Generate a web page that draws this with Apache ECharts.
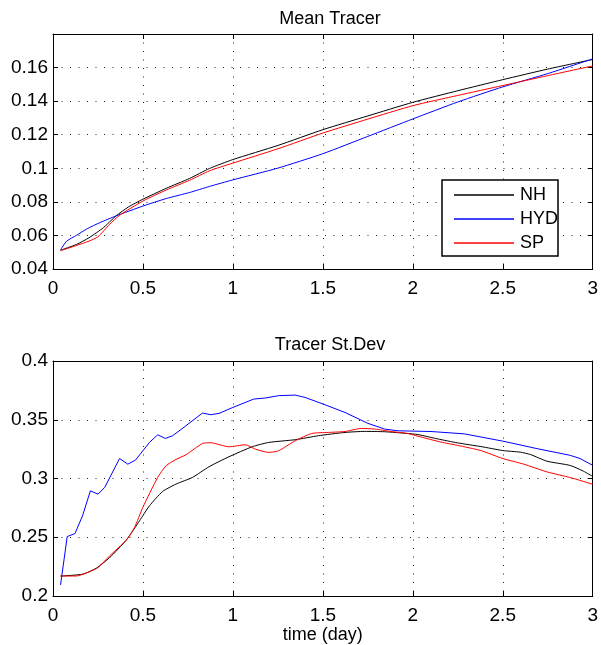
<!DOCTYPE html>
<html>
<head>
<meta charset="utf-8">
<script src="https://cdn.jsdelivr.net/npm/echarts@6/dist/echarts.min.js"></script>
<style>
html,body{margin:0;padding:0;background:#fff;}
#c{width:601px;height:645px;}
</style>
</head>
<body>
<div id="c"></div>
<script>
// ---- Data (time in days) ----
var titles = ['Mean Tracer', 'Tracer St.Dev'];
var seriesNames = ['NH', 'HYD', 'SP'];
var xTicks = [0, 0.5, 1, 1.5, 2, 2.5, 3];
var meanYTicks = [0.04, 0.06, 0.08, 0.1, 0.12, 0.14, 0.16];
var stdYTicks = [0.2, 0.25, 0.3, 0.35, 0.4];

// Mean Tracer
var nhMeanT = [0.042, 0.13, 0.2, 0.28, 0.35, 0.42, 0.5, 0.63, 0.76, 0.87, 1.0, 1.25, 1.5, 1.75, 2.0, 2.25, 2.5, 2.75, 3.0];
var nhMeanV = [0.0512, 0.0546, 0.0586, 0.0646, 0.0716, 0.077, 0.0816, 0.0881, 0.094, 0.0999, 0.1052, 0.1136, 0.123, 0.1312, 0.1393, 0.1462, 0.1528, 0.1591, 0.1648];
var hydMeanT = [0.042, 0.076, 0.13, 0.19, 0.26, 0.35, 0.5, 0.63, 0.76, 0.87, 1.0, 1.25, 1.5, 1.75, 2.0, 2.25, 2.5, 2.75, 3.0];
var hydMeanV = [0.0514, 0.0566, 0.06, 0.064, 0.0676, 0.0716, 0.0775, 0.082, 0.0856, 0.0892, 0.0931, 0.1001, 0.1087, 0.119, 0.1294, 0.1395, 0.1485, 0.1564, 0.1652];
var spMeanT = [0.042, 0.13, 0.2, 0.25, 0.315, 0.37, 0.5, 0.63, 0.76, 0.87, 1.0, 1.25, 1.5, 1.75, 2.0, 2.25, 2.5, 2.75, 3.0];
var spMeanV = [0.0509, 0.054, 0.0566, 0.0592, 0.0666, 0.072, 0.0805, 0.0871, 0.0929, 0.0985, 0.1031, 0.1116, 0.121, 0.1293, 0.1373, 0.1434, 0.1493, 0.1552, 0.161];

// Tracer St.Dev
var nhStdT = [0.042, 0.167, 0.241, 0.315, 0.407, 0.481, 0.536, 0.609, 0.683, 0.775, 0.867, 0.978, 1.107, 1.199, 1.346, 1.475, 1.623, 1.733, 1.843, 1.972, 2.028, 2.138, 2.249, 2.378, 2.5, 2.598, 2.654, 2.746, 2.875, 2.949, 3.0];
var nhStdV = [0.217, 0.2186, 0.2237, 0.2327, 0.2475, 0.264, 0.2767, 0.2889, 0.2952, 0.3009, 0.31, 0.3185, 0.327, 0.3307, 0.333, 0.3364, 0.3392, 0.3401, 0.3398, 0.3383, 0.3374, 0.3337, 0.3303, 0.3272, 0.3238, 0.3224, 0.3204, 0.3147, 0.3111, 0.3062, 0.3017];
var hydStdT = [0.042, 0.079, 0.122, 0.164, 0.208, 0.25, 0.287, 0.37, 0.416, 0.459, 0.536, 0.582, 0.624, 0.665, 0.739, 0.831, 0.877, 0.923, 1.0, 1.116, 1.18, 1.254, 1.346, 1.401, 1.501, 1.623, 1.751, 1.843, 1.917, 2.101, 2.286, 2.5, 2.691, 2.875, 2.93, 3.0];
var hydStdV = [0.2094, 0.2506, 0.2531, 0.2682, 0.2895, 0.2867, 0.2923, 0.317, 0.3122, 0.3157, 0.3307, 0.3372, 0.3341, 0.3364, 0.3449, 0.3557, 0.3543, 0.3554, 0.3605, 0.3676, 0.3685, 0.3705, 0.371, 0.369, 0.3634, 0.3562, 0.3469, 0.3421, 0.3406, 0.34, 0.338, 0.3318, 0.3254, 0.3197, 0.317, 0.3112];
var spStdT = [0.042, 0.13, 0.204, 0.25, 0.315, 0.407, 0.453, 0.499, 0.582, 0.628, 0.683, 0.739, 0.831, 0.877, 0.978, 1.07, 1.125, 1.199, 1.254, 1.346, 1.438, 1.53, 1.623, 1.714, 1.788, 1.88, 1.972, 2.028, 2.156, 2.249, 2.378, 2.5, 2.617, 2.746, 2.875, 3.0];
var spStdV = [0.217, 0.217, 0.2208, 0.2242, 0.2342, 0.2475, 0.2583, 0.2753, 0.3009, 0.3108, 0.3162, 0.3202, 0.3298, 0.3304, 0.327, 0.3287, 0.325, 0.3222, 0.3236, 0.3321, 0.3383, 0.3392, 0.34, 0.3426, 0.3421, 0.34, 0.3383, 0.336, 0.331, 0.3282, 0.3238, 0.317, 0.3122, 0.3056, 0.3008, 0.2951];

var colors = {NH: '#000000', HYD: '#0000ff', SP: '#ff0000'};

function pairs(t, v) { return t.map(function (x, i) { return [x, v[i]]; }); }

var FONT = 'Liberation Sans, Arial, Helvetica, sans-serif';
var gridLine = {show: true, lineStyle: {color: '#222', width: 1, type: [1, 7.5]}};

function mainX(gi, name) {
  return {
    type: 'value', gridIndex: gi, min: xTicks[0], max: xTicks[xTicks.length - 1], interval: 0.5,
    position: 'bottom',
    axisLine: {show: true, onZero: false, lineStyle: {color: '#000', width: 1}},
    axisTick: {show: true, inside: true, length: 5, lineStyle: {color: '#000'}},
    axisLabel: {color: '#000', fontSize: 19, fontFamily: FONT, margin: 10},
    splitLine: gridLine,
    name: name || '', nameLocation: 'middle', nameGap: 28,
    nameTextStyle: {color: '#000', fontSize: 18, fontFamily: FONT, verticalAlign: 'top'}
  };
}
function topX(gi) {
  return {
    type: 'value', gridIndex: gi, min: 0, max: 3, interval: 0.5, position: 'top',
    axisLine: {show: true, onZero: false, lineStyle: {color: '#000', width: 1}},
    axisTick: {show: true, inside: true, length: 5, lineStyle: {color: '#000'}},
    axisLabel: {show: false}, splitLine: {show: false}
  };
}
function mainY(gi, ticks, interval, showMax) {
  return {
    type: 'value', gridIndex: gi, min: ticks[0], max: showMax ? ticks[ticks.length - 1] : 0.18,
    interval: interval, position: 'left',
    axisLine: {show: true, onZero: false, lineStyle: {color: '#000', width: 1}},
    axisTick: {show: true, inside: true, length: 5, lineStyle: {color: '#000'}},
    axisLabel: {color: '#000', fontSize: 19, fontFamily: FONT, margin: 5, showMaxLabel: showMax,
      formatter: function (v) { return String(+v.toFixed(4)); }},
    splitLine: gridLine
  };
}
function rightY(gi, min, max, interval) {
  return {
    type: 'value', gridIndex: gi, min: min, max: max, interval: interval, position: 'right',
    axisLine: {show: true, onZero: false, lineStyle: {color: '#000', width: 1}},
    axisTick: {show: true, inside: true, length: 5, lineStyle: {color: '#000'}},
    axisLabel: {show: false}, splitLine: {show: false}
  };
}

function line(name, data, xi, yi, smooth) {
  return {
    name: name, type: 'line', xAxisIndex: xi, yAxisIndex: yi, data: data,
    symbol: 'none', smooth: smooth,
    lineStyle: {color: colors[name], width: 1}, itemStyle: {color: colors[name]},
    emphasis: {disabled: true}, animation: false
  };
}

var chart = echarts.init(document.getElementById('c'), null, {renderer: 'canvas'});
chart.setOption({
  backgroundColor: '#fff',
  animation: false,
  title: [
    {text: titles[0], left: 325, top: 5, textAlign: 'center',
      textStyle: {fontSize: 18, fontWeight: 'normal', color: '#000', fontFamily: FONT}},
    {text: titles[1], left: 325, top: 331, textAlign: 'center',
      textStyle: {fontSize: 18, fontWeight: 'normal', color: '#000', fontFamily: FONT}}
  ],
  legend: {
    data: seriesNames.map(function (n) { return {name: n, icon: 'rect'}; }),
    orient: 'vertical', left: 442, top: 180,
    padding: [6, 0, 4, 12], itemWidth: 60, itemHeight: 1.3, itemGap: 6,
    borderColor: '#000', borderWidth: 1.5, backgroundColor: '#fff',
    textStyle: {fontSize: 18, lineHeight: 17, color: '#000', fontFamily: FONT, padding: [0, 0, 0, 1]},
    selectedMode: false, z: 20
  },
  grid: [
    {left: 53, top: 34, width: 543, height: 235, show: false},
    {left: 53, top: 361, width: 543, height: 235, show: false}
  ],
  xAxis: [mainX(0), topX(0), mainX(1, 'time (day)'), topX(1)],
  yAxis: [mainY(0, meanYTicks, 0.02, false), rightY(0, 0.04, 0.18, 0.02),
          mainY(1, stdYTicks, 0.05, true), rightY(1, 0.2, 0.4, 0.05)],
  series: [
    line('NH', pairs(nhMeanT, nhMeanV), 0, 0, 0.2),
    line('HYD', pairs(hydMeanT, hydMeanV), 0, 0, 0.2),
    line('SP', pairs(spMeanT, spMeanV), 0, 0, 0.2),
    line('NH', pairs(nhStdT, nhStdV), 2, 2, 0.2),
    line('HYD', pairs(hydStdT, hydStdV), 2, 2, false),
    line('SP', pairs(spStdT, spStdV), 2, 2, 0.2)
  ]
});
</script>
</body>
</html>
